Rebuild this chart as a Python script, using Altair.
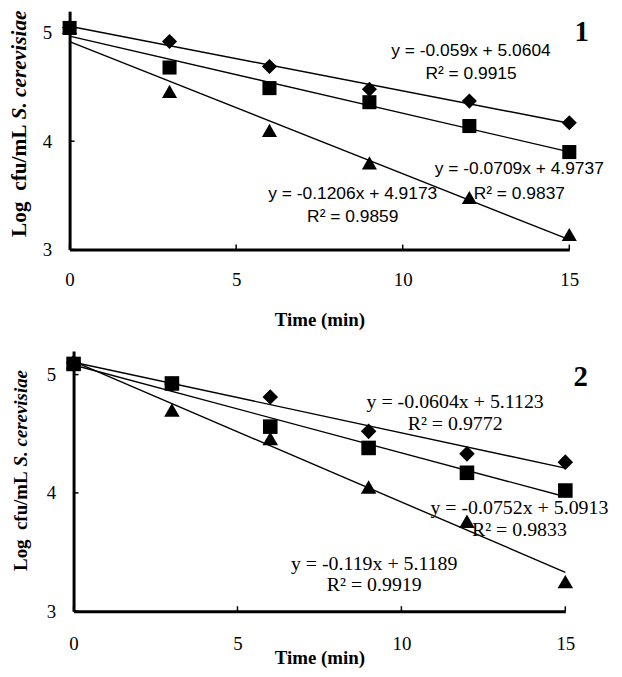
import altair as alt
import pandas as pd

# ---------------- data ----------------
time = [0, 3, 6, 9, 12, 15]

p1_diamond = [5.05, 4.92, 4.69, 4.48, 4.37, 4.17]
p1_square = [5.045, 4.68, 4.49, 4.36, 4.14, 3.90]
p1_triangle = [5.05, 4.46, 4.10, 3.80, 3.48, 3.14]

p2_diamond = [5.10, 4.92, 4.81, 4.52, 4.33, 4.26]
p2_square = [5.09, 4.925, 4.56, 4.38, 4.17, 4.02]
p2_triangle = [5.10, 4.70, 4.46, 4.05, 3.76, 3.25]

p1_eq_text = ["y = -0.059x + 5.0604", "R² = 0.9915",
              "y = -0.0709x + 4.9737", "R² = 0.9837",
              "y = -0.1206x + 4.9173", "R² = 0.9859"]
p1_eq_x = [12.05, 12.05, 13.5, 13.5, 8.5, 8.5]
p1_eq_y = [4.83, 4.62, 3.74, 3.51, 3.51, 3.30]

p2_eq_text = ["y = -0.0604x + 5.1123", "R² = 0.9772",
              "y = -0.0752x + 5.0913", "R² = 0.9833",
              "y = -0.119x + 5.1189", "R² = 0.9919"]
p2_eq_x = [11.64, 11.64, 13.6, 13.6, 9.17, 9.17]
p2_eq_y = [4.77, 4.58, 3.875, 3.69, 3.40, 3.22]

panel_labels = ["1", "2"]
panel_label_x = [15.37, 15.47]
panel_label_y = [5.01, 4.98]

x_ticks = [0, 5, 10, 15]
y_ticks = [3, 4, 5]

ytitle_a = "Log\u00a0\u00a0cfu/mL"
ytitle_b = "S. cerevisiae"
xtitle = "Time (min)"

SERIF = "Liberation Serif"
SANS = "Liberation Sans"


def long_df(d, s, t):
    rows = []
    for name, vals in (("triangle", t), ("diamond", d), ("square", s)):
        for x, v in zip(time, vals):
            rows.append({"time": x, "value": v, "series": name})
    return pd.DataFrame(rows)


def panel(d, s, t, eq_text, eq_x, eq_y, idx, W, H, eq_font, eq_size,
          label_pad, title_y, yt_size, yt_start, yt_x, msize):
    df = long_df(d, s, t)
    xs = alt.Scale(domain=[0, 15], nice=False, zero=False)
    ys = alt.Scale(domain=[3, 5.2], nice=False, zero=False)
    xaxis = alt.Axis(values=x_ticks, title=xtitle, grid=False, ticks=False,
                     tickSize=0, domainColor="black", domainWidth=3,
                     labelFont=SERIF, labelFontSize=19, labelColor="black",
                     labelPadding=label_pad, labelBaseline="alphabetic",
                     labelFlush=False,
                     titleFont=SERIF, titleFontSize=19, titleFontWeight="bold",
                     titleColor="black", titleY=title_y,
                     titleBaseline="alphabetic", format="d")
    yaxis = alt.Axis(values=y_ticks, title=None, grid=False, ticks=False,
                     tickSize=0, domainColor="black", domainWidth=3,
                     labelFont=SERIF, labelFontSize=19, labelColor="black",
                     labelPadding=18, labelFlush=False, format="d")

    def X(f):
        return alt.X(f, scale=xs, axis=xaxis)

    def Y(f):
        return alt.Y(f, scale=ys, axis=yaxis)

    base = alt.Chart(df)
    lines = base.transform_regression(
        "time", "value", groupby=["series"], extent=[0, 15]
    ).mark_line(color="black", strokeWidth=1.4).encode(
        x=X("time:Q"), y=Y("value:Q"), detail="series:N",
    )
    pts = []
    for name, shape, size in (("triangle", "triangle-up", msize + 30),
                              ("diamond", "diamond", msize + 30),
                              ("square", "square", msize)):
        pts.append(
            base.transform_filter(alt.datum.series == name)
            .mark_point(shape=shape, filled=True, color="black", opacity=1,
                        size=size)
            .encode(x=X("time:Q"), y=Y("value:Q"))
        )
    xt = alt.Chart(pd.DataFrame({"time": x_ticks})).mark_rule(
        color="black", strokeWidth=1.5).encode(
        x=X("time:Q"), y=alt.value(H), y2=alt.value(H - 5))
    yt = alt.Chart(pd.DataFrame({"value": y_ticks})).mark_rule(
        color="black", strokeWidth=1.5).encode(
        y=Y("value:Q"), x=alt.value(0), x2=alt.value(5))
    eq = alt.Chart(pd.DataFrame({"t": eq_text, "time": eq_x, "value": eq_y})).mark_text(
        font=eq_font, fontSize=eq_size, color="black", align="center",
        baseline="middle").encode(x=X("time:Q"), y=Y("value:Q"), text="t:N")
    num = alt.Chart(pd.DataFrame({"t": [panel_labels[idx]],
                                  "time": [panel_label_x[idx]],
                                  "value": [panel_label_y[idx]]})).mark_text(
        font=SERIF, fontSize=29, fontWeight="bold", color="black",
        align="center", baseline="middle").encode(
        x=X("time:Q"), y=Y("value:Q"), text="t:N")
    junction = yt_start - 5.278 * yt_size
    ya = alt.Chart(pd.DataFrame({"t": [ytitle_a]})).mark_text(
        font=SERIF, fontSize=yt_size, fontWeight="bold", color="black",
        angle=270, align="right", baseline="middle").encode(
        text="t:N", x=alt.value(yt_x), y=alt.value(junction))
    yb = alt.Chart(pd.DataFrame({"t": [ytitle_b]})).mark_text(
        font=SERIF, fontSize=yt_size, fontWeight="bold", fontStyle="italic",
        color="black", angle=270, align="left", baseline="middle").encode(
        text="t:N", x=alt.value(yt_x), y=alt.value(junction - 5))
    return alt.layer(lines, *pts, xt, yt, eq, num, ya, yb).properties(
        width=W, height=H)


p1 = panel(p1_diamond, p1_square, p1_triangle, p1_eq_text, p1_eq_x, p1_eq_y,
           0, 503, 240, SANS, 17.5, 36, 76.5, 21.5, 227.5, -50, 200)
p2 = panel(p2_diamond, p2_square, p2_triangle, p2_eq_text, p2_eq_x, p2_eq_y,
           1, 495, 262, SERIF, 20, 39, 52.5, 19, 221.5, -53, 215)

# small invisible spacer that shifts panel 2 a few pixels to the right
spacer = alt.Chart(pd.DataFrame({"a": [0]})).mark_point(opacity=0).encode(
    x=alt.value(0), y=alt.value(0)).properties(width=4, height=1)
row2 = alt.hconcat(spacer, p2, spacing=0, bounds="flush")

chart = alt.vconcat(p1, row2, spacing=102, bounds="flush").properties(
    padding={"left": 0, "top": 0, "right": 5, "bottom": 0},
    background="white",
).configure_view(stroke=None)

chart.save("out.html", embed_options={"renderer": "svg", "actions": False})
